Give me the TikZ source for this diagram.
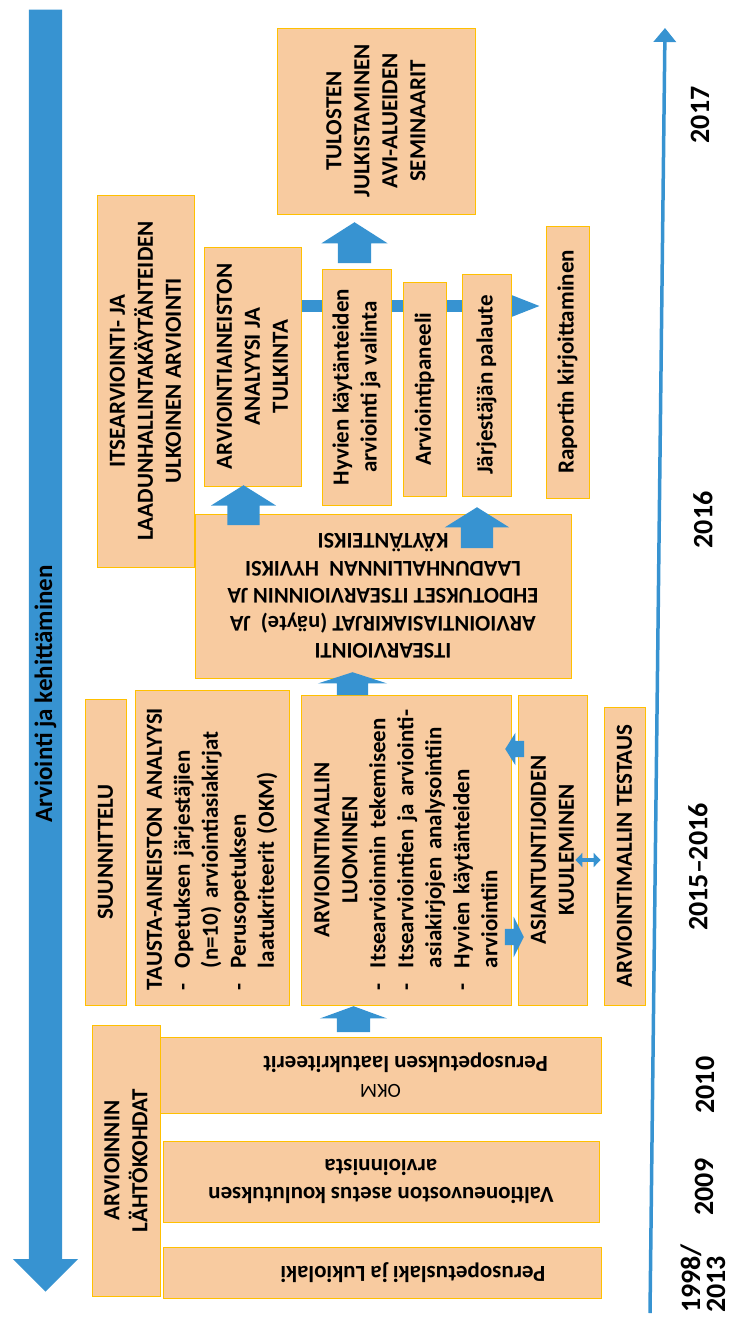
\documentclass[tikz,border=0pt]{standalone}
\usepackage{fontspec}
\setmainfont{Carlito}
\usetikzlibrary{arrows.meta,positioning,calc,shapes.arrows,backgrounds}
\definecolor{peach}{RGB}{248,203,160}
\definecolor{gold}{RGB}{255,192,0}
\definecolor{flowblue}{RGB}{55,147,209}

\begin{document}
\begin{tikzpicture}[x=1pt,y=-1pt,
  box/.style={draw=gold,fill=peach,line width=0.8pt,inner sep=0pt,
    font=\fontsize{23}{28}\selectfont\bfseries,align=center},
  vbox/.style={box,rotate=90},
  ubox/.style={box,rotate=180,font=\fontsize{23}{28}\selectfont\bfseries},
  lbox/.style={vbox,align=left,inner xsep=15pt},
  fat/.style={single arrow,fill=flowblue,inner xsep=0pt,anchor=tip},
  year/.style={rotate=90,inner sep=0pt,font=\fontsize{28}{25}\selectfont\bfseries,align=center}]
\useasboundingbox (0,0) rectangle (735,1322);
% main direction arrow on the left
\node[fat,rotate=-90,minimum height=1282,inner ysep=16.5pt,
  single arrow head extend=16,single arrow tip angle=90] (kehi) at (45.5,1292) {};
\node[rotate=90,font=\fontsize{25}{30}\selectfont\bfseries] (ttl) at (45.5,694)
  {Arviointi ja kehittäminen};
% time axis
\coordinate (t0) at (650,1313);
\coordinate (t1) at (665,28);
\draw[line width=3.5pt,flowblue,-{Triangle[width=22pt,length=14pt]}] (t0) -- (t1);
\node[year] (y17) at (700,115) {2017};
\node[year] (y16) at (703,520) {2016};
\node[year] (y1516) at (698,867) {2015--2016};
\node[year] (y10) at (705,1085) {2010};
\node[year] (y09) at (704,1187) {2009};
\node[year,align=left,anchor=west] (y98) at (703,1313) {1998/\\2013};
% starting points
\node[vbox,minimum width=271,minimum height=68] (lah) at (126,1160.5)
  {ARVIOINNIN\\LÄHTÖKOHDAT};
\node[ubox,minimum width=441,minimum height=76] (krit) at (380.5,1075)
  {{\mdseries\fontsize{20}{28}\selectfont OKM}\\Perusopetuksen laatukriteerit\hspace*{50pt}};
\node[ubox,minimum width=436,minimum height=81] (vn) at (381,1181.5)
  {Valtioneuvoston asetus koulutuksen\\arvioinnista};
\node[ubox,minimum width=438,minimum height=51] (laki) at (382,1272.5)
  {Perusopetuslaki ja Lukiolaki\hspace*{62pt}};
% 2015-2016
\node[vbox,minimum width=306,minimum height=41] (suun) at (105.5,852) {SUUNNITTELU};
\node[lbox,text width=285,minimum height=154] (taus) at (212,847.5)
  {TAUSTA-AINEISTON ANALYYSI\\
   \makebox[22pt][l]{-}Opetuksen järjestäjien\\
   \hspace*{22pt}(n=10) arviointiasiakirjat\\
   \makebox[22pt][l]{-}Perusopetuksen\\
   \hspace*{22pt}laatukriteerit (OKM)};
\node[lbox,text width=280,minimum height=210] (malli) at (406,850)
  {\makebox[280pt]{ARVIOINTIMALLIN}\\
   \makebox[280pt]{LUOMINEN}\\
   \makebox[22pt][l]{-}Itsearvioinnin tekemiseen\\
   \makebox[22pt][l]{-}\mbox{Itsearviointien ja arviointi-}\\
   \hspace*{22pt}asiakirjojen analysointiin\\
   \makebox[22pt][l]{-}Hyvien käytänteiden\\
   \hspace*{22pt}arviointiin};
\node[vbox,minimum width=310,minimum height=69] (asi) at (552.5,850)
  {ASIANTUNTIJOIDEN\\KUULEMINEN};
\node[vbox,minimum width=298,minimum height=41] (test) at (624.5,856)
  {ARVIOINTIMALLIN TESTAUS};
% 2016
\node[ubox,font=\fontsize{22.5}{27.5}\selectfont\bfseries,
  minimum width=376,minimum height=164] (sa) at (383,596)
  {ITSEARVIOINTI\\ARVIOINTIASIAKIRJAT (näyte)\ \ JA\\EHDOTUKSET ITSEARVIOINNIN JA\\
   LAADUNHALLINNAN\ \ HYVIKSI\\KÄYTÄNTEIKSI};
\node[vbox,minimum width=372,minimum height=97] (itse) at (145.5,381)
  {ITSEARVIOINTI- JA\\LAADUNHALLINTAKÄYTÄNTEIDEN\\ULKOINEN ARVIOINTI};
\node[vbox,minimum width=239,minimum height=97] (aine) at (252.5,366.5)
  {ARVIOINTIAINEISTON\\ANALYYSI JA\\TULKINTA};
\node[vbox,minimum width=236,minimum height=69] (hyv) at (356.5,387)
  {Hyvien käytänteiden\\arviointi ja valinta};
\node[vbox,minimum width=214,minimum height=43] (pan) at (424.5,389) {Arviointipaneeli};
\node[vbox,minimum width=222,minimum height=49] (jarj) at (486.5,385) {Järjestäjän palaute};
\node[vbox,minimum width=272,minimum height=43] (rap) at (567.5,362) {Raportin kirjoittaminen};
% 2017
\node[vbox,minimum width=186,minimum height=198] (tul) at (376,121)
  {TULOSTEN\\JULKISTAMINEN\\AVI-ALUEIDEN\\SEMINAARIT};
% flow behind the 2016 boxes
\coordinate (fl) at (0,306);
\begin{scope}[on background layer]
\draw[line width=12pt,flowblue,shorten >=4pt,-{Triangle[width=22pt,length=34pt]}]
  (aine.south |- fl) -- (rap.north |- fl);
\end{scope}
% block arrows
\node[fat,rotate=90,minimum height=26,inner ysep=16.5pt,single arrow head extend=17,
  single arrow tip angle=140] (a1) at (353.5,1006) {};
\node[fat,rotate=90,minimum height=23,inner ysep=15.5pt,single arrow head extend=19,
  single arrow tip angle=144] (a2) at (352.5,672) {};
\node[fat,rotate=90,minimum height=40,inner ysep=16pt,single arrow head extend=16.5,
  single arrow tip angle=116] (a3) at (243.5,485) {};
\node[fat,rotate=90,minimum height=41,inner ysep=16pt,single arrow head extend=16,
  single arrow tip angle=116] (a4) at (477,507) {};
\node[fat,rotate=90,minimum height=41,inner ysep=16.5pt,single arrow head extend=16.5,
  single arrow tip angle=115] (a5) at (354.5,222) {};
\node[fat,rotate=180,minimum height=19,inner ysep=8pt,single arrow head extend=8,
  single arrow tip angle=116] (a6) at (505,749) {};
\node[fat,minimum height=19,inner ysep=8pt,single arrow head extend=12,
  single arrow tip angle=127] (a7) at (524,937) {};
\draw[line width=4pt,flowblue,{Triangle[width=14pt,length=7pt]}-{Triangle[width=14pt,length=7pt]}]
  ($(asi.south)+(-12,10)$) -- ($(test.north)+(-3,4)$);
\end{tikzpicture}
\end{document}
